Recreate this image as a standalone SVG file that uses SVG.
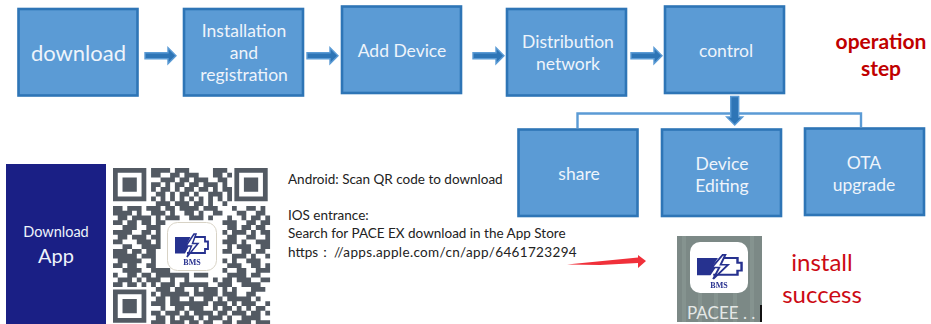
<svg xmlns="http://www.w3.org/2000/svg" width="931" height="324" viewBox="0 0 931 324">
<style>
.box{fill:#5b9bd5;stroke:#2e75b6;stroke-width:2.6}
.lbl{font-family:Lato,"Open Sans",sans-serif;fill:#eef4fb;text-anchor:middle;font-size:17.5px}
.flow{fill:#2e75b6;stroke:#5b9bd5;stroke-width:1.4}
.tree{fill:none;stroke:#5b9bd5;stroke-width:2.4}
.note{font-family:Lato,"Open Sans",sans-serif;fill:#222;font-size:13.5px}
.red{font-family:Lato,"Open Sans",sans-serif;fill:#c00000;text-anchor:middle}
.qr{fill:none;stroke:#525a63;stroke-width:1}
.bms{font-family:"Liberation Serif",serif;font-weight:bold;fill:#27308f;text-anchor:middle}
</style>
<defs>
<filter id="soft" x="-5%" y="-5%" width="110%" height="110%"><feGaussianBlur stdDeviation="0.55"/></filter>
<path id="arr" d="M0 -3H23V-8L31 0L23 8V3H0Z"/>
<g id="logo">
<path d="M0 0H15.5L12 7H15L10 16.500H0Z" fill="#27308f"/>
<path d="M17 0H30V4.500H33V12H30V16H12" fill="none" stroke="#27308f" stroke-width="1.800"/>
<path d="M19 -3L11 9H16.500L12 20L23 6.500H17.500L21 -3Z" fill="#fff" stroke="#27308f" stroke-width="1.500"/>
</g>
</defs>
<rect width="931" height="324" fill="#fff"/>
<g id="connectors">
<path class="tree" d="M577.500 128V113.500H861V127"/>
<use href="#arr" class="flow" x="145" y="55.700"/>
<use href="#arr" class="flow" x="307" y="55.700"/>
<use href="#arr" class="flow" x="473" y="55.700"/>
<use href="#arr" class="flow" x="631" y="55.700"/>
<path class="flow" d="M730.700 96.500H738.700V117H742.700L734.700 125L726.700 117H730.700Z"/>
<path d="M567 264.500L638 257.500V255L646 261L638 268V263L600 265Z" fill="#f0303a"/>
</g>
<g id="n-download"><rect class="box" x="18.500" y="9" width="119" height="86.500"/><text class="lbl" x="78.500" y="61" style="font-size:22px">download</text></g>
<g id="n-install"><rect class="box" x="184" y="9" width="119" height="86.500"/><text class="lbl" x="244" y="37">Installation</text><text class="lbl" x="244" y="59">and</text><text class="lbl" x="244" y="81">registration</text></g>
<g id="n-add"><rect class="box" x="342" y="6.500" width="119" height="86.500"/><text class="lbl" x="402" y="57">Add Device</text></g>
<g id="n-dist"><rect class="box" x="507" y="9" width="119" height="86.500"/><text class="lbl" x="568" y="48">Distribution</text><text class="lbl" x="568" y="70">network</text></g>
<g id="n-control"><rect class="box" x="665" y="6.500" width="119" height="86.500"/><text class="lbl" x="726" y="57">control</text></g>
<g id="n-share"><rect class="box" x="518.500" y="129.500" width="119" height="86.500"/><text class="lbl" x="579" y="180">share</text></g>
<g id="n-edit"><rect class="box" x="662" y="129.500" width="119" height="86.500"/><text class="lbl" x="722" y="170">Device</text><text class="lbl" x="722" y="192">Editing</text></g>
<g id="n-ota"><rect class="box" x="805" y="128.500" width="119" height="86.500"/><text class="lbl" x="864" y="169">OTA</text><text class="lbl" x="864" y="191">upgrade</text></g>
<g id="t-step"><text class="red" x="881" y="49" style="font-size:21px;font-weight:bold">operation</text><text class="red" x="881" y="76" style="font-size:21px;font-weight:bold">step</text></g>
<g id="n-app"><rect x="6" y="164" width="100" height="160" fill="#1a1f85"/><text class="lbl" x="56" y="237" style="font-size:14.500px">Download</text><text class="lbl" x="56" y="263" style="font-size:20px">App</text></g>
<g id="qr" filter="url(#soft)">
<g transform="translate(113 168) scale(4.76)">
<path class="qr" d="M.5 .5h6v6h-6zM26 .5h6v6h-6zM.5 26h6v6h-6z"/>
<path d="M2 2h3v3h-3zM27.500 2h3v3h-3zM2 27.500h3v3h-3z" fill="#525a63"/>
<path class="qr" d="M8 .5h4M13 .5h3M21 .5h3M8 1.500h2M12 1.500h2M15 1.500h3M21 1.500h2M24 1.500h1M10 2.500h3M14 2.500h2M17 2.500h3M22 2.500h2M8 3.500h2M11 3.500h1M13 3.500h2M16 3.500h2M19 3.500h3M23 3.500h1M8 4.500h1M10 4.500h2M13 4.500h1M15 4.500h2M18 4.500h2M21 4.500h1M23 4.500h2M9 5.500h2M12 5.500h1M14 5.500h2M17 5.500h1M20 5.500h3M24 5.500h1M8 6.500h1M10 6.500h1M12 6.500h1M14 6.500h1M16 6.500h1M18 6.500h1M20 6.500h1M22 6.500h1M24 6.500h1M9 7.500h3M13 7.500h3M17 7.500h2M20 7.500h1M23 7.500h1M8 8.500h2M11 8.500h2M14 8.500h4M19 8.500h3M0 8.500h2M3 8.500h3M7 8.500h1M25 8.500h1M28 8.500h2M31 8.500h1M0 9.500h4M5 9.500h1M8 9.500h3M12 9.500h1M15 9.500h2M18 9.500h1M21 9.500h2M26 9.500h2M30 9.500h2M1 10.500h2M4 10.500h4M9 10.500h1M11 10.500h3M16 10.500h3M20 10.500h1M24 10.500h1M27 10.500h1M29 10.500h2M32 10.500h1M0 11.500h2M3 11.500h2M6 11.500h2M9 11.500h2M23 11.500h3M28 11.500h2M31 11.500h2M2 12.500h3M7 12.500h3M24 12.500h2M27 12.500h2M30 12.500h2M0 13.500h4M6 13.500h2M9 13.500h1M23 13.500h1M25 13.500h3M29 13.500h1M31 13.500h2M1 14.500h2M4 14.500h3M8 14.500h2M24 14.500h2M28 14.500h2M32 14.500h1M0 15.500h2M5 15.500h3M9 15.500h1M23 15.500h3M27 15.500h1M30 15.500h3M2 16.500h2M6 16.500h4M24 16.500h1M26 16.500h3M31 16.500h2M0 17.500h3M4 17.500h2M7 17.500h2M23 17.500h2M27 17.500h2M30 17.500h2M0 18.500h5M6 18.500h3M25 18.500h3M29 18.500h1M32 18.500h1M1 19.500h5M8 19.500h1M23 19.500h1M25 19.500h1M28 19.500h3M0 20.500h2M3 20.500h2M7 20.500h2M24 20.500h3M29 20.500h2M32 20.500h1M2 21.500h4M8 21.500h4M23 21.500h1M26 21.500h2M30 21.500h3M0 22.500h1M3 22.500h2M6 22.500h2M9 22.500h7M17 22.500h3M24 22.500h4M29 22.500h2M1 23.500h3M5 23.500h1M7 23.500h3M12 23.500h1M15 23.500h1M21 23.500h1M23 23.500h2M26 23.500h3M31 23.500h2M0 24.500h2M3 24.500h2M6 24.500h1M8 24.500h1M10 24.500h3M14 24.500h6M22 24.500h3M27 24.500h4M9 25.500h3M13 25.500h2M17 25.500h1M19 25.500h3M23 25.500h1M25 25.500h1M29 25.500h3M8 26.500h1M10 26.500h6M17 26.500h5M23 26.500h3M28 26.500h2M9 27.500h2M12 27.500h2M16 27.500h1M19 27.500h2M22 27.500h1M24 27.500h5M30 27.500h1M8 28.500h3M12 28.500h6M18 28.500h2M21 28.500h3M25 28.500h1M27 28.500h3M32 28.500h1M10 29.500h1M13 29.500h2M16 29.500h3M21 29.500h1M23 29.500h2M26 29.500h1M28 29.500h1M30 29.500h2M8 30.500h2M11 30.500h3M15 30.500h1M17 30.500h4M22 30.500h2M25 30.500h3M29 30.500h2M32 30.500h1M9 31.500h2M12 31.500h1M14 31.500h3M18 31.500h1M20 31.500h3M24 31.500h1M27 31.500h4M8 32.500h3M12 32.500h3M16 32.500h2M19 32.500h2M23 32.500h2M26 32.500h3M30 32.500h3"/>
</g>
<rect x="167.500" y="222.500" width="49" height="48" rx="10" fill="#fff" stroke="#d8d3c6" stroke-width="1"/>
<use href="#logo" x="175" y="237"/>
<text class="bms" x="192" y="265" style="font-size:8px">BMS</text>
</g>
<g id="t-note">
<text class="note" x="288" y="184">Android: Scan QR code to download</text>
<text class="note" x="288" y="220">IOS entrance:</text>
<text class="note" x="288" y="238">Search for PACE EX download in the App Store</text>
<text class="note" x="288" y="257">https：</text><text class="note" x="334" y="257" style="letter-spacing:.35px">//apps.apple.com/cn/app/6461723294</text>
</g>
<g id="n-icon">
<g filter="url(#soft)">
<rect x="677" y="236" width="85" height="86" fill="#7b8986"/>
<path d="M684 236v86M700 293v29M716 293v29M735 293v29M752 236v86" stroke="#85938f" stroke-width="4" fill="none"/>
<rect x="690" y="242" width="58" height="51" rx="10" fill="#fff"/>
<use href="#logo" transform="translate(697 258) scale(1.350 1.050)"/>
<text class="bms" x="719" y="288" style="font-size:8px">BMS</text>
</g>
<rect x="760" y="305" width="2" height="17" fill="#111"/>
<text x="687" y="319" style="font-family:Lato,sans-serif;font-size:17px;fill:#e4e8e6">PACEE . .</text>
</g>
<g id="t-success"><text class="red" x="822" y="271" style="font-size:24px;fill:#cc0a14">install</text><text class="red" x="822" y="303" style="font-size:24px;fill:#cc0a14">success</text></g>
</svg>
